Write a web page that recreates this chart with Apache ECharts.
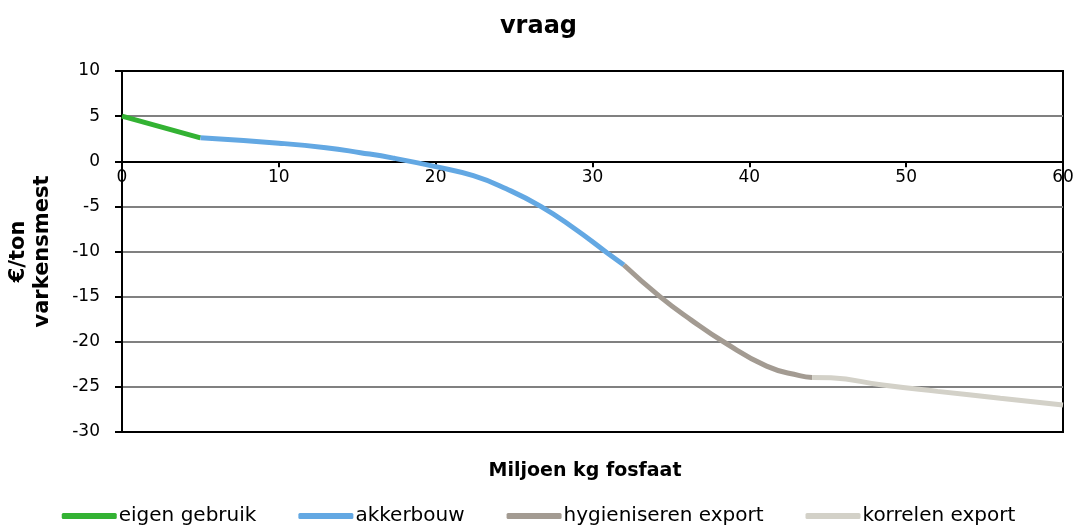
<!DOCTYPE html>
<html>
<head>
<meta charset="utf-8">
<script src="https://cdn.jsdelivr.net/npm/echarts@6/dist/echarts.min.js"></script>
<style>
  html, body { margin: 0; padding: 0; background: #fff; }
  #chart { width: 1077px; height: 526px; }
</style>
</head>
<body>
<div id="chart"></div>
<script>
// Demand curve segments: [million kg phosphate, €/ton pig manure]
const eigenGebruik = [[0, 5], [5, 2.6]];
const akkerbouw = [[5, 2.6], [10, 2.0], [13, 1.5], [15.2, 0.95], [17.3, 0.35], [20, -0.6],
                   [22.4, -1.6], [24.5, -3.05], [26.7, -5.0], [28.8, -7.4], [30.9, -10.1], [32, -11.5]];
const hygieniserenExport = [[32, -11.5], [34.3, -15.0], [36.3, -17.6], [38.35, -20.0],
                            [41.1, -22.7], [43.2, -23.75], [44, -23.95]];
const korrelenExport = [[44, -23.95], [45.2, -24.0], [48.5, -24.8], [52, -25.5], [56, -26.25], [60, -27.0]];

const xTicks = { min: 0, max: 60, step: 10 };
const yTicks = { min: -30, max: 10, step: 5 };

const seriesNames = ['eigen gebruik', 'akkerbouw', 'hygieniseren export', 'korrelen export'];
const seriesData = [eigenGebruik, akkerbouw, hygieniserenExport, korrelenExport];
const seriesColors = ['#33b233', '#63a8e3', '#a39b92', '#d3d1c8'];

const FONT = 'DejaVu Sans';
const GRID = { left: 122, right: 14, top: 71, bottom: 94 };
const plotHeight = 526 - GRID.top - GRID.bottom;
// distance from the bottom edge of the plot up to the y = 0 line
const zeroOffset = plotHeight * (0 - yTicks.min) / (yTicks.max - yTicks.min);

// horizontal lines: the frame edges and the zero line are black, the rest grey
const gridLineColors = [];
for (let v = yTicks.min; v <= yTicks.max; v += yTicks.step) {
  gridLineColors.push(v === yTicks.min || v === yTicks.max || v === 0 ? '#000' : '#808080');
}

const chart = echarts.init(document.getElementById('chart'), null, { renderer: 'canvas' });

chart.setOption({
  animation: false,
  backgroundColor: '#ffffff',
  title: [
    {
      text: 'vraag',
      left: 'center',
      top: 10,
      textStyle: { fontFamily: FONT, fontSize: 24, fontWeight: 'bold', color: '#000' }
    },
    {
      text: 'Miljoen kg fosfaat',
      left: 580,
      textAlign: 'center',
      top: 457,
      textStyle: { fontFamily: FONT, fontSize: 19, fontWeight: 'bold', color: '#000' }
    }
  ],
  legend: {
    data: seriesNames,
    bottom: -5,
    left: 'center',
    itemWidth: 55,
    itemHeight: 6,
    itemGap: 42,
    icon: 'roundRect',
    textStyle: { fontFamily: FONT, fontSize: 20, color: '#000', padding: [0, 0, 0, -3] }
  },
  grid: {
    left: GRID.left, right: GRID.right, top: GRID.top, bottom: GRID.bottom,
    outerBoundsMode: 'none',
    containLabel: false,
    show: true,
    borderColor: '#000',
    borderWidth: 2
  },
  xAxis: {
    type: 'value',
    min: xTicks.min, max: xTicks.max, interval: xTicks.step,
    offset: -zeroOffset,
    axisLine: { onZero: false, lineStyle: { color: '#000', width: 2 } },
    axisTick: { show: true, inside: false, length: 6, lineStyle: { color: '#000', width: 2 } },
    axisLabel: {
      margin: 8, showMinLabel: true, showMaxLabel: true,
      fontFamily: FONT, fontSize: 17, color: '#000'
    },
    splitLine: { show: false }
  },
  yAxis: {
    type: 'value',
    min: yTicks.min, max: yTicks.max, interval: yTicks.step,
    name: '€/ton\nvarkensmest',
    nameLocation: 'middle',
    nameRotate: 90,
    nameGap: 67,
    nameTextStyle: { fontFamily: FONT, fontSize: 21, fontWeight: 'bold', color: '#000', lineHeight: 24 },
    axisLine: { show: true, lineStyle: { color: '#000', width: 2 } },
    axisTick: { show: true, length: 7, lineStyle: { color: '#000', width: 2 } },
    axisLabel: { margin: 22, fontFamily: FONT, fontSize: 17, color: '#000' },
    splitLine: { show: true, lineStyle: { color: gridLineColors, width: 2 } }
  },
  series: seriesNames.map((name, i) => ({
    name,
    type: 'line',
    data: seriesData[i],
    smooth: 0.5,
    showSymbol: false,
    symbol: 'none',
    color: seriesColors[i],
    lineStyle: { width: 5, color: seriesColors[i], cap: 'butt' },
    z: 3 + i
  }))
});
</script>
</body>
</html>
